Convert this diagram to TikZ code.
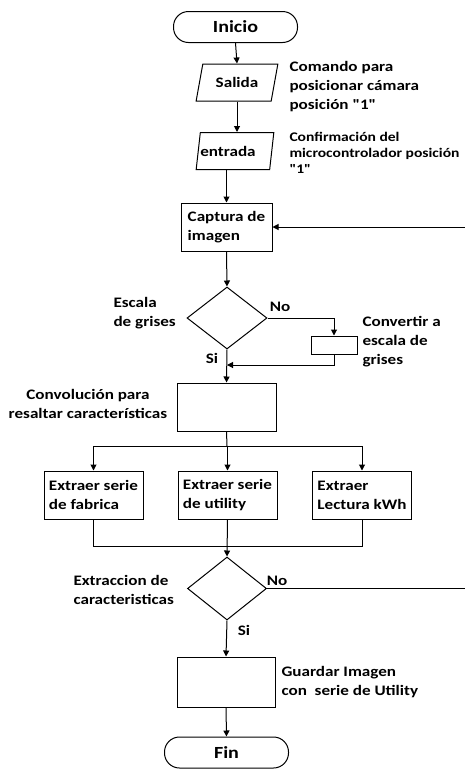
\documentclass[tikz,border=0pt]{standalone}
\usepackage{fontspec}
\setmainfont{Carlito}[FakeStretch=1.18, Ligatures=TeXOff]
\usetikzlibrary{arrows.meta, shapes.geometric, calc}

\begin{document}
\begin{tikzpicture}[
    x=1pt, y=-1pt,
    every node/.style={font=\fontsize{14.5}{19}\selectfont\bfseries, inner sep=0pt},
    term/.style={draw, rectangle, rounded corners=15pt, minimum width=124pt, minimum height=31pt, font=\fontsize{17}{20}\selectfont\bfseries},
    io/.style={draw, trapezium, trapezium left angle=68, trapezium right angle=112, trapezium stretches=true, minimum height=37pt},
    proc/.style={draw, rectangle, minimum width=99pt, minimum height=48pt, align=left},
    dec/.style={draw, diamond, minimum width=80pt, minimum height=62pt},
    lbl/.style={anchor=west, align=left},
    arrow/.style={-{Triangle[length=6pt, width=6pt]}},
    line width=1pt,
]
    % Bounding box of the reference
    \useasboundingbox (0,0) rectangle (464,769);

    % Main column
    \node[term] (inicio) at (235.5,27) {Inicio};
    \node[io, minimum width=82pt] (salida) at (237,82.5) {Salida};
    \node[io, minimum width=75pt] (entrada) at (235,151) {entrada\hspace*{14pt}};
    \node[proc, minimum width=91pt] (captura) at (226.5,227) {Captura de\\imagen};
    \node[dec] (gris) at (227,318) {};
    \node[draw, minimum width=46pt, minimum height=18pt] (gray) at (334,345) {};
    \node[proc] (conv) at (226.5,407) {};

    % Three extraction steps
    \foreach \name/\x/\txt in {fab/93.5/{Extraer serie\\de fabrica},
        util/227.5/{Extraer serie\\de utility}, kwh/362/{Extraer\\Lectura kWh}}
    {
        \node[proc] (\name) at (\x,495) {\txt};
    }

    \node[dec, minimum width=79pt, minimum height=63pt] (extr) at (227,588.5) {};
    \node[proc, minimum width=98pt, minimum height=50pt] (guardar) at (226,682) {};
    \node[term] (fin) at (226.5,752.5) {Fin};

    % Labels
    \node[lbl] (cmdlbl) at (289,87) {Comando para\\posicionar cámara\\posición "1"};
    \node[lbl, font=\fontsize{13.2}{16}\selectfont\bfseries] (conflbl) at (289,153) {Confirmación del\\microcontrolador posición\\"1"};
    \node[lbl] (escalalbl) at (113,313) {Escala\\de grises};
    \node[lbl] (graylbl) at (362,342) {Convertir a\\escala de\\grises};
    \node[align=center] (convlbl) at (88,404) {Convolución para\\resaltar características};
    \node[lbl] (extrlbl) at (73,589.5) {Extraccion de\\caracteristicas};
    \node[lbl] (guardlbl) at (281,682) {Guardar Imagen\\con \ serie de Utility};
    \node (no1) at (280,307) {No};
    \node (si1) at (212,358) {Si};
    \node (no2) at (277,581) {No};
    \node (si2) at (244,630) {Si};

    % Junctions
    \coordinate (back) at (227,365);
    \coordinate (split) at (227,446);
    \coordinate (merge) at (227,546);

    % Connectors
    \draw[arrow] (inicio.south) -- (salida.north);
    \draw[arrow] (salida.south) -- (salida.south |- entrada.north);
    \draw[arrow] (captura.north |- entrada.south) -- (captura.north);
    \draw[arrow] (captura.south) -- (gris.north);
    \draw[arrow] (gris.east) -| (gray.north);
    \draw[arrow] (gray.south) |- (back);
    \draw[arrow] (gris.south) -- (conv.north);
    \draw (conv.south) -- (split);
    \foreach \name in {fab, util, kwh}
        \draw[arrow] (split) -| (\name.north);
    \foreach \name in {fab, kwh}
        \draw (\name.south) |- (merge);
    \draw[arrow] (util.south) -- (extr.north);
    \draw[arrow] (extr.south) -- (guardar.north);
    \draw[arrow] (guardar.south) -- (fin.north);
    % Loop back to the capture step
    \draw[arrow] (extr.east) -- ++(230,0) |- (captura.east);
\end{tikzpicture}
\end{document}
